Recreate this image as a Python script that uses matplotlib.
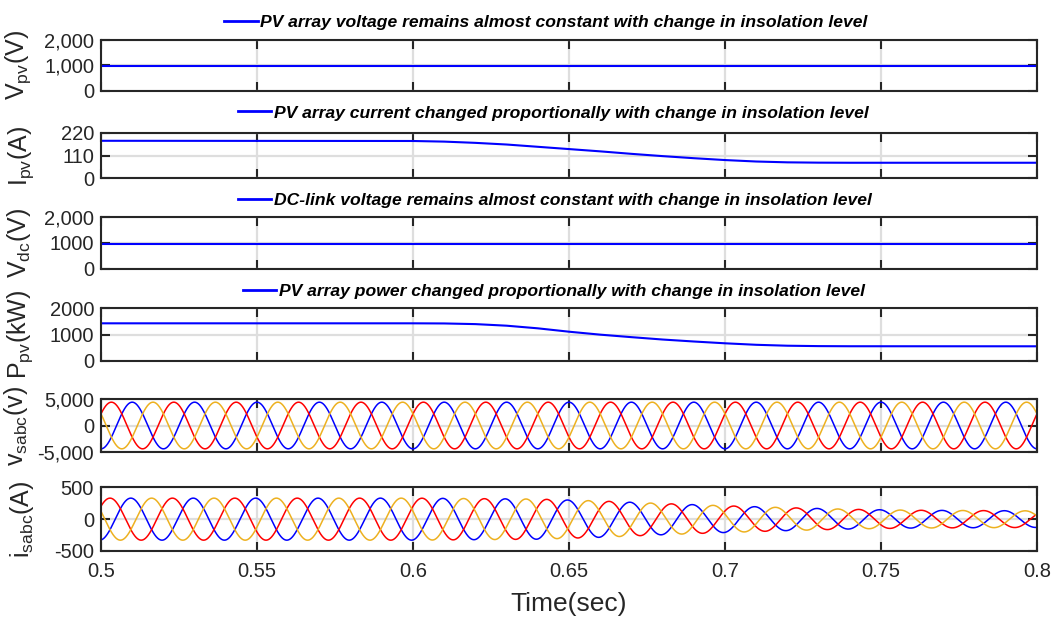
import numpy as np
import matplotlib
matplotlib.use("Agg")
import matplotlib.pyplot as plt

plt.rcParams['font.family'] = ['Liberation Sans', 'DejaVu Sans']
plt.rcParams['mathtext.fontset'] = 'custom'
plt.rcParams['mathtext.rm'] = 'Liberation Sans'
plt.rcParams['mathtext.it'] = 'Liberation Sans:italic'

# ---- data ----
t_start, t_end = 0.5, 0.8
x_ticks = [0.5, 0.55, 0.6, 0.65, 0.7, 0.75, 0.8]
x_ticklabels = ['0.5', '0.55', '0.6', '0.65', '0.7', '0.75', '0.8']

vpv_level = 960          # V, flat
vdc_level = 960          # V, flat

ipv_t = [0.5, 0.6, 0.61, 0.62, 0.63, 0.64, 0.65, 0.66, 0.67, 0.68, 0.69, 0.70, 0.71, 0.72, 0.73, 0.74, 0.8]
ipv_val = [181, 180, 177, 171, 163, 152, 141, 130, 118, 107, 97, 88, 81, 77, 75.5, 75, 75]

ppv_t = [0.5, 0.6, 0.61, 0.62, 0.63, 0.64, 0.65, 0.66, 0.67, 0.68, 0.69, 0.70, 0.71, 0.72, 0.73, 0.74, 0.8]
ppv_val = [1430, 1430, 1425, 1400, 1340, 1240, 1112, 1000, 905, 815, 740, 672, 615, 580, 565, 560, 558]

# grid voltage / current (50 Hz, three phases)
freq_hz = 50
phase_deg = [-90, 30, 150]            # blue, red, yellow at t = 0.5
phase_colors = ['#0000ff', '#ff0000', '#edb120']
vs_amp = 4400
is_shift_deg = 8
is_env_t = [0.5, 0.6, 0.64, 0.66, 0.68, 0.70, 0.72, 0.74, 0.76, 0.8]
is_env_amp = [330, 330, 315, 285, 245, 210, 180, 155, 140, 130]

legend_texts = [
    'PV array voltage remains almost constant with change in insolation level',
    'PV array current changed proportionally with change in insolation level',
    'DC-link voltage remains almost constant with change in insolation level',
    'PV array power changed proportionally with change in insolation level',
]
ylabels = [r'V$_{\rm pv}$(V)', r'I$_{\rm pv}$(A)', r'V$_{\rm dc}$(V)',
           r'P$_{\rm pv}$(kW)', r'v$_{\rm sabc}$(v)', r'i$_{\rm sabc}$(A)']
yticks = [[0, 1000, 2000], [0, 110, 220], [0, 1000, 2000], [0, 1000, 2000],
          [-5000, 0, 5000], [-500, 0, 500]]
yticklabels = [['0', '1,000', '2,000'], ['0', '110', '220'], ['0', '1000', '2,000'],
               ['0', '1000', '2000'], ['-5,000', '0', '5,000'], ['-500', '0', '500']]

# ---- layout (pixels from top) ----
W, H = 1054, 622
panels_px = [(40, 90.5), (132.7, 178.3), (217, 269), (308.3, 361), (399, 452), (487.3, 551)]
label_right_px = [33, 36, 33, 35, 30, 36]
legend_center_px = [546, 553, 555, 554]
legend_lift_px = [3.5, 6, 3, 3.5]
left_px, right_px = 101, 1037

fig = plt.figure(figsize=(W / 100, H / 100), dpi=100)
axes = []
for top, bot in panels_px:
    ax = fig.add_axes([left_px / W, 1 - bot / H, (right_px - left_px) / W, (bot - top) / H])
    axes.append(ax)

t = np.linspace(t_start, t_end, 6001)
w = 2 * np.pi * freq_hz

axes[0].plot([t_start, t_end], [vpv_level, vpv_level], color='#0000ff', lw=1.5)
axes[1].plot(ipv_t, ipv_val, color='#0000ff', lw=1.5)
axes[2].plot([t_start, t_end], [vdc_level, vdc_level], color='#0000ff', lw=1.5)
axes[3].plot(ppv_t, ppv_val, color='#0000ff', lw=1.5)

is_env = np.interp(t, is_env_t, is_env_amp)
for ph, c in zip(phase_deg, phase_colors):
    axes[4].plot(t, vs_amp * np.sin(w * (t - t_start) + np.radians(ph)), color=c, lw=1.1)
    axes[5].plot(t, is_env * np.sin(w * (t - t_start) + np.radians(ph + is_shift_deg)), color=c, lw=1.1)

for i, ax in enumerate(axes):
    ax.set_xlim(t_start, t_end)
    ax.set_ylim(yticks[i][0], yticks[i][-1])
    ax.set_yticks(yticks[i])
    ax.set_yticklabels(yticklabels[i])
    ax.set_xticks(x_ticks)
    if i == len(axes) - 1:
        ax.set_xticklabels(x_ticklabels)
    else:
        ax.set_xticklabels([])
    ax.grid(True, color='#dedede', lw=1.6)
    ax.set_axisbelow(True)
    ax.tick_params(direction='in', length=6.8, width=1.5, top=True, right=True,
                   labelsize=14.5, color='#262626', labelcolor='#262626', pad=5)
    ax.tick_params(axis='x', pad=8)
    for s in ax.spines.values():
        s.set_linewidth(1.5)
        s.set_color('#262626')
    ax.set_ylabel(ylabels[i], fontsize=18, color='#262626')
    ax.yaxis.set_label_coords((label_right_px[i] - left_px) / (right_px - left_px), 0.5)
    if i < 4:
        ax_h = panels_px[i][1] - panels_px[i][0]
        leg = ax.legend([ax.lines[0]], [legend_texts[i]], loc='lower center',
                        bbox_to_anchor=((legend_center_px[i] - left_px) / (right_px - left_px),
                                        1.0 + legend_lift_px[i] / ax_h),
                        frameon=False, borderaxespad=0.15, borderpad=0.2,
                        handlelength=1.9, handletextpad=0.15,
                        prop={'weight': 'bold', 'style': 'italic', 'size': 12.6})
        leg.get_lines()[0].set_linewidth(2)

axes[-1].set_xlabel('Time(sec)', fontsize=19, color='#262626', labelpad=8)

fig.savefig('out.png', dpi=100)
